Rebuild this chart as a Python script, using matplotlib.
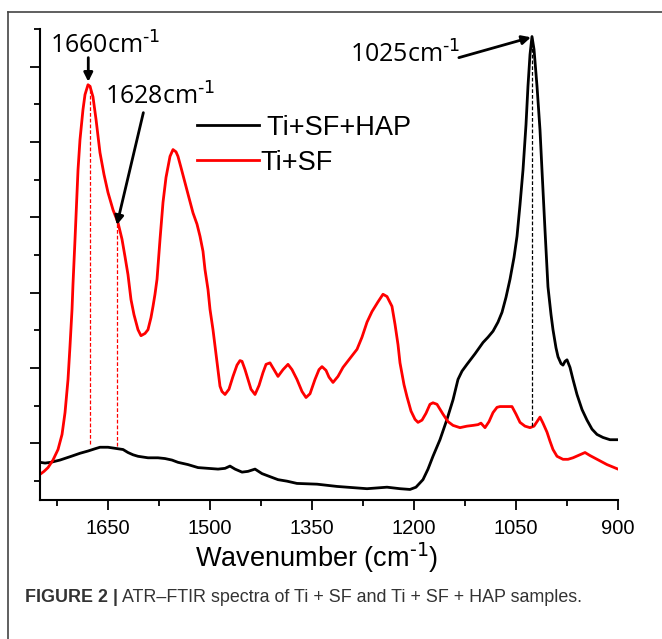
import numpy as np
import matplotlib
matplotlib.use("Agg")
import matplotlib.pyplot as plt
from matplotlib.ticker import MultipleLocator, NullFormatter
from matplotlib.lines import Line2D

# Ti+SF spectrum (red), wavenumber cm-1 vs absorbance (a.u.)
sf_wn = [1750, 1744.1, 1738.2, 1730.9, 1723.5, 1717.6, 1713.2, 1708.8, 1705.9, 1702.9,
         1701.5, 1698.5, 1694.1, 1691.2, 1686.8, 1683.8, 1679.4, 1676.5, 1672.1, 1667.6,
         1661.8, 1655.9, 1650, 1642.6, 1635.3, 1629.4, 1625, 1620.6, 1616.2, 1611.8,
         1605.9, 1601.5, 1595.6, 1591.2, 1586.8, 1583.8, 1580.9, 1577.9, 1573.5, 1569.1,
         1564.7, 1558.8, 1554.4, 1550, 1547.1, 1542.6, 1536.8, 1530.9, 1525, 1519.1,
         1514.7, 1510.3, 1507.4, 1502.9, 1500, 1495.6, 1492.6, 1488.2, 1485.3, 1482.4,
         1477.9, 1472.1, 1466.2, 1460.3, 1455.9, 1452.9, 1448.5, 1444.1, 1439.7, 1433.8,
         1427.9, 1422.1, 1417.6, 1411.8, 1405.9, 1400, 1392.6, 1385.3, 1379.4, 1372.1,
         1364.7, 1358.8, 1352.9, 1345.6, 1339.7, 1335.3, 1329.4, 1325, 1319.1, 1311.8,
         1304.4, 1294.1, 1283.8, 1276.5, 1269.1, 1261.8, 1252.9, 1245.6, 1239.7, 1232.4,
         1227.9, 1223.5, 1220.6, 1214.7, 1210.3, 1204.4, 1198.5, 1194.1, 1188.2, 1182.4,
         1176.5, 1172.1, 1166.2, 1157.4, 1150, 1142.6, 1132.4, 1122.1, 1113.2, 1105.9,
         1101.5, 1095.6, 1089.7, 1083.8, 1077.9, 1073.5, 1064.7, 1055.9, 1050, 1044.1,
         1036.8, 1029.4, 1023.5, 1019.1, 1014.7, 1010.3, 1004.4, 1000, 995.6, 989.7,
         980.9, 973.5, 966.2, 955.9, 948.5, 941.2, 930.9, 916.2, 900]
sf_abs = [0.59, 0.63, 0.68, 0.78, 0.92, 1.12, 1.41, 1.85, 2.29, 2.78,
          3.11, 3.71, 4.63, 5.03, 5.43, 5.63, 5.76, 5.74, 5.60, 5.30,
          4.86, 4.57, 4.33, 4.10, 3.93, 3.71, 3.48, 3.24, 2.91, 2.71,
          2.51, 2.43, 2.46, 2.51, 2.67, 2.82, 2.98, 3.18, 3.71, 4.20,
          4.53, 4.81, 4.90, 4.87, 4.81, 4.66, 4.46, 4.26, 4.06, 3.91,
          3.75, 3.55, 3.31, 3.04, 2.78, 2.51, 2.29, 1.96, 1.76, 1.69,
          1.65, 1.72, 1.89, 2.04, 2.10, 2.09, 1.98, 1.85, 1.72, 1.65,
          1.77, 1.94, 2.05, 2.07, 1.98, 1.89, 1.98, 2.05, 1.98, 1.85,
          1.69, 1.61, 1.66, 1.85, 1.98, 2.02, 1.97, 1.88, 1.81, 1.89,
          2.01, 2.13, 2.25, 2.41, 2.61, 2.75, 2.88, 2.98, 2.95, 2.82,
          2.58, 2.31, 2.07, 1.78, 1.62, 1.43, 1.32, 1.28, 1.31, 1.40,
          1.52, 1.54, 1.52, 1.39, 1.29, 1.24, 1.21, 1.23, 1.24, 1.25,
          1.27, 1.21, 1.29, 1.41, 1.48, 1.49, 1.49, 1.49, 1.39, 1.28,
          1.23, 1.21, 1.23, 1.29, 1.35, 1.27, 1.15, 1.03, 0.92, 0.83,
          0.79, 0.79, 0.81, 0.85, 0.88, 0.84, 0.79, 0.72, 0.66]

# Ti+SF+HAP spectrum (black)
hap_wn = [1750, 1742.6, 1734.1, 1720.6, 1704, 1691.2, 1679.4, 1669.1, 1661.8, 1650,
          1635.3, 1627.9, 1620.6, 1613.2, 1605.9, 1591.2, 1576.5, 1566.2, 1555.9, 1547.1,
          1532.4, 1517.6, 1502.9, 1488.2, 1477.9, 1470.6, 1463.2, 1452.9, 1444.1, 1433.8,
          1423.5, 1411.8, 1400, 1386.8, 1372.1, 1342.6, 1313.2, 1269.1, 1239.7, 1220.6,
          1205.9, 1197.1, 1186.8, 1179.4, 1172.1, 1161.8, 1151.5, 1142.6, 1135.3, 1129.4,
          1122.1, 1110.3, 1098.5, 1091.2, 1083.8, 1076.5, 1070.6, 1064.7, 1058.8, 1052.9,
          1048.5, 1044.1, 1039.7, 1035.3, 1032.4, 1029.4, 1026.5, 1023.5, 1019.1, 1014.7,
          1011.8, 1007.4, 1003, 998.5, 995.6, 991.2, 988.2, 983.8, 980.9, 977.9,
          975, 970.6, 966.2, 960.3, 952.9, 945.6, 938.2, 930.9, 922.1, 911.8, 900]
hap_abs = [0.75, 0.74, 0.75, 0.78, 0.83, 0.87, 0.90, 0.93, 0.95, 0.95,
           0.93, 0.92, 0.88, 0.85, 0.83, 0.81, 0.81, 0.80, 0.78, 0.75,
           0.72, 0.68, 0.67, 0.66, 0.67, 0.70, 0.66, 0.62, 0.63, 0.66,
           0.60, 0.56, 0.52, 0.50, 0.47, 0.46, 0.43, 0.40, 0.42, 0.40,
           0.39, 0.42, 0.52, 0.66, 0.83, 1.05, 1.32, 1.58, 1.85, 1.96,
           2.05, 2.19, 2.34, 2.41, 2.49, 2.61, 2.74, 2.94, 3.18, 3.47,
           3.75, 4.17, 4.63, 5.23, 5.74, 6.16, 6.40, 6.23, 5.74, 5.16,
           4.63, 3.84, 3.08, 2.71, 2.51, 2.27, 2.15, 2.06, 2.04, 2.09,
           2.11, 2.01, 1.85, 1.65, 1.45, 1.31, 1.19, 1.12, 1.08, 1.05, 1.05]

# marker lines (wavenumber, bottom, top)
red_marks = [(1676, 0.99, 5.76), (1637, 0.96, 3.93)]
black_marks = [(1026.5, 1.23, 6.40)]

# annotations: label, text position, arrow tail, arrow tip
sup = "$\\mathregular{^{\\text{-1}}}$"
notes = [
    ("1660cm" + sup, (1654, 6.27), (1679, 6.12), (1679, 5.80)),
    ("1628cm" + sup, (1573, 5.60), (1598, 5.39), (1637, 3.90)),
    ("1025cm" + sup, (1213, 6.15), (1134, 6.12), (1028, 6.39)),
]

W, H = 662, 639
fig = plt.figure(figsize=(W / 100, H / 100), dpi=100)
ax = fig.add_axes([40 / W, 1 - 500 / H, 578 / W, 471 / H])

ax.plot(hap_wn, hap_abs, color="black", lw=2.0, label=" Ti+SF+HAP")
ax.plot(sf_wn, sf_abs, color="#ff0000", lw=2.0, label="Ti+SF")

for x, y0, y1 in red_marks:
    ax.plot([x, x], [y0, y1], color="#ff0000", lw=0.9, ls=(0, (3, 1.6)))
for x, y0, y1 in black_marks:
    ax.plot([x, x], [y0, y1], color="black", lw=0.9, ls=(0, (3, 1.6)))

for label, txt, tail, tip in notes:
    ax.text(txt[0], txt[1], label, fontsize=18, family="Open Sans",
            ha="center", va="center")
    ax.annotate("", xy=tip, xytext=tail,
                arrowprops=dict(arrowstyle="-|>", color="black", lw=2,
                                mutation_scale=13, shrinkA=0, shrinkB=0))

ax.set_xlim(1750, 900)
ax.set_ylim(0.25, 6.5)
ax.xaxis.set_major_locator(MultipleLocator(150))
ax.xaxis.set_minor_locator(MultipleLocator(75))
ax.yaxis.set_major_locator(MultipleLocator(1))
ax.yaxis.set_minor_locator(MultipleLocator(0.5))
ax.yaxis.set_major_formatter(NullFormatter())

for s in ("top", "right"):
    ax.spines[s].set_visible(False)
for s in ("left", "bottom"):
    ax.spines[s].set_linewidth(1.5)
ax.tick_params(which="major", direction="out", length=7.5, width=1.3,
               labelsize=14.5, pad=6)
ax.tick_params(which="minor", direction="out", length=4.5, width=1.3)
for t in ax.get_xticklabels():
    t.set_family("Liberation Sans")

ax.set_xlabel("Wavenumber (cm" + sup + ")", fontsize=19.5,
              family="Liberation Sans", labelpad=2)
ax.xaxis.label.set_x(0.479)

leg = ax.legend(loc="upper left", bbox_to_anchor=(146 / 578, 1 - 75 / 471),
                frameon=False, handlelength=2.3, handletextpad=0.05,
                labelspacing=0.32, borderaxespad=0,
                prop={"family": "Liberation Sans", "size": 19.5})

# outer figure frame (only top and left edges visible)
fig.add_artist(Line2D([8 / W, 8 / W], [0, 1 - 12 / H], color="#444444", lw=1.2))
fig.add_artist(Line2D([8 / W, 1], [1 - 12 / H, 1 - 12 / H], color="#444444", lw=1.2))

# caption
cap_y = 1 - 597 / H
t1 = fig.text(25 / W, cap_y, "FIGURE 2 |", fontsize=12.85, weight="bold",
              family="Liberation Sans", color="#333333", va="center")
fig.canvas.draw()
bb = t1.get_window_extent(fig.canvas.get_renderer())
fig.text(bb.x1 / W + 4 / W, cap_y,
         "ATR\u2013FTIR spectra of Ti + SF and Ti + SF + HAP samples.",
         fontsize=12.85, family="Liberation Sans", color="#333333", va="center")

fig.savefig("out.png", dpi=100)
